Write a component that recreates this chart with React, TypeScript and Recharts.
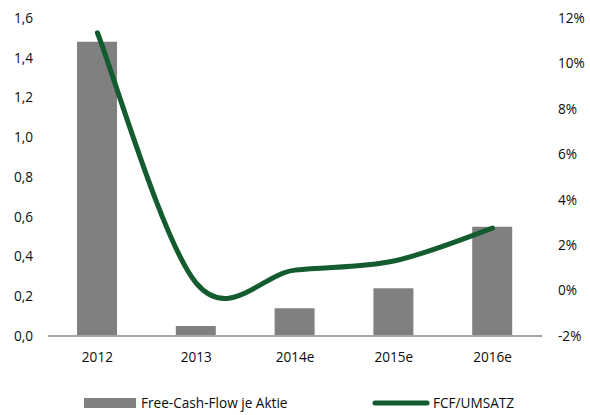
import React from 'react'
import { ComposedChart, Bar, Line, XAxis, YAxis, Legend } from 'recharts'

const years = ['2012', '2013', '2014e', '2015e', '2016e']
const fcfPerShare = [1.48, 0.05, 0.14, 0.24, 0.55]
const fcfToSales = [11.35, 0.33, 0.9, 1.3, 2.75]
const leftTicks = [0, 0.2, 0.4, 0.6, 0.8, 1.0, 1.2, 1.4, 1.6]
const rightTicks = [-2, 0, 2, 4, 6, 8, 10, 12]

const BAR_COLOR = '#808080'
const LINE_COLOR = '#135c2f'
const TEXT_COLOR = '#0d0d0d'
const FONT = '"Open Sans", "Noto Sans", sans-serif'
const FONT_SIZE = 13.6

const data = years.map((year, i) => ({ year, fcf: fcfPerShare[i], ratio: fcfToSales[i] }))

// office-style smoothed line: catmull-rom handles turned into cubic beziers
function smoothCurve(context: any) {
  let pts: number[][] = []
  return {
    areaStart() {},
    areaEnd() {},
    lineStart() {
      pts = []
    },
    point(x: number, y: number) {
      pts.push([+x, +y])
    },
    lineEnd() {
      if (!pts.length) return
      context.moveTo(pts[0][0], pts[0][1])
      for (let i = 0; i < pts.length - 1; i++) {
        const p0 = pts[i - 1] || pts[i]
        const p1 = pts[i]
        const p2 = pts[i + 1]
        const p3 = pts[i + 2] || p2
        context.bezierCurveTo(
          p1[0] + (p2[0] - p0[0]) / 6,
          p1[1] + (p2[1] - p0[1]) / 6,
          p2[0] - (p3[0] - p1[0]) / 6,
          p2[1] - (p3[1] - p1[1]) / 6,
          p2[0],
          p2[1]
        )
      }
    },
  }
}

const fmtLeft = (v: number) => v.toFixed(1).replace('.', ',')
const fmtRight = (v: number) => `${v}%`

function ChartLegend() {
  return (
    <div style={{ position: 'relative', height: 20, fontFamily: FONT, fontSize: FONT_SIZE, color: TEXT_COLOR }}>
      <div style={{ position: 'absolute', left: 84, top: 5, width: 52, height: 10, background: BAR_COLOR }} />
      <span style={{ position: 'absolute', left: 141, top: 1, lineHeight: '18px' }}>Free-Cash-Flow je Aktie</span>
      <svg style={{ position: 'absolute', left: 372, top: 4 }} width={58} height={12}>
        <line x1={3} y1={6} x2={55} y2={6} stroke={LINE_COLOR} strokeWidth={5} strokeLinecap="round" />
      </svg>
      <span style={{ position: 'absolute', left: 433, top: 1, lineHeight: '18px' }}>FCF/UMSATZ</span>
    </div>
  )
}

export default function App() {
  const tick = { fill: TEXT_COLOR, fontSize: FONT_SIZE, fontFamily: FONT }
  return (
    <div style={{ position: 'absolute', left: 0, top: 0, width: 590, height: 415, background: '#fff' }}>
      <ComposedChart
        width={590}
        height={415}
        data={data}
        margin={{ top: 18, right: 0, bottom: 2, left: 0 }}
        style={{ fontFamily: FONT }}
      >
        <XAxis
          dataKey="year"
          height={57}
          tick={tick}
          tickLine={false}
          tickSize={0}
          tickMargin={16}
          axisLine={{ stroke: '#a6a6a6', strokeWidth: 2 }}
        />
        <YAxis
          yAxisId="left"
          width={48}
          domain={[0, 1.6]}
          ticks={leftTicks}
          tickFormatter={fmtLeft}
          tick={tick}
          tickLine={false}
          axisLine={false}
          tickSize={0}
          tickMargin={15}
        />
        <YAxis
          yAxisId="right"
          orientation="right"
          width={48}
          domain={[-2, 12]}
          ticks={rightTicks}
          tickFormatter={fmtRight}
          tick={{ ...tick, textAnchor: 'start' }}
          tickLine={false}
          axisLine={false}
          tickSize={0}
          tickMargin={16}
        />
        <Legend verticalAlign="bottom" height={20} content={() => <ChartLegend />} />
        <Bar yAxisId="left" dataKey="fcf" name="Free-Cash-Flow je Aktie" fill={BAR_COLOR} barSize={40} isAnimationActive={false} />
        <Line
          yAxisId="right"
          dataKey="ratio"
          name="FCF/UMSATZ"
          type={smoothCurve as any}
          stroke={LINE_COLOR}
          strokeWidth={5}
          strokeLinecap="round"
          dot={false}
          activeDot={false}
          isAnimationActive={false}
        />
      </ComposedChart>
    </div>
  )
}
